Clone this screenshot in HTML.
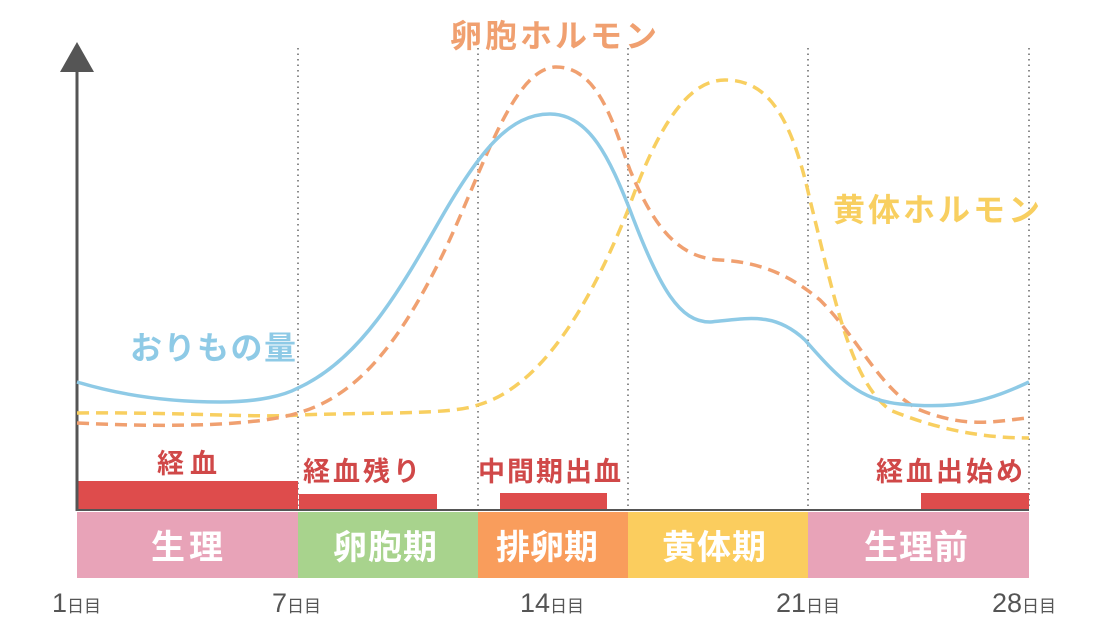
<!DOCTYPE html><html><head><meta charset="utf-8"><style>
body{margin:0;background:#fff;width:1111px;height:635px;overflow:hidden;font-family:"Liberation Sans","Noto Sans CJK JP",sans-serif}
</style></head><body>
<svg width="1111" height="635" xmlns="http://www.w3.org/2000/svg" font-family="'Liberation Sans','Noto Sans CJK JP',sans-serif">
<g stroke="#666" stroke-width="1.5" stroke-dasharray="1.5,4">
<line x1="298" y1="48" x2="298" y2="510"/><line x1="478" y1="48" x2="478" y2="510"/><line x1="628" y1="48" x2="628" y2="510"/><line x1="808" y1="48" x2="808" y2="510"/><line x1="1029" y1="48" x2="1029" y2="510"/>
</g>
<g fill="#de4c4c">
<rect x="77" y="481" width="221" height="29"/><rect x="299" y="494" width="138" height="16"/><rect x="500" y="493" width="107" height="17"/><rect x="921" y="493" width="108" height="17"/>
</g>
<rect x="77" y="512" width="221" height="66" fill="#e8a3b8"/>
<rect x="298" y="512" width="180" height="66" fill="#a8d38d"/>
<rect x="478" y="512" width="150" height="66" fill="#f99d5c"/>
<rect x="628" y="512" width="180" height="66" fill="#fbcd5e"/>
<rect x="808" y="512" width="221" height="66" fill="#e8a3b8"/>
<line x1="77" y1="70" x2="77" y2="511" stroke="#555" stroke-width="3"/>
<line x1="76" y1="510" x2="1029" y2="510" stroke="#555" stroke-width="2"/>
<polygon points="77,42 60,72 94,72" fill="#555"/>
<path d="M77,413 C180,412 260,418 298,415 C380,412 450,415 478,405 C530,390 580,330 628,210 C660,120 690,80 725,80 C765,80 790,110 810,200 C835,300 850,380 890,410 C950,435 1000,438 1029,438" fill="none" stroke="#f8cf60" stroke-width="3.5" stroke-dasharray="12,7"/>
<path d="M77,423 C180,428 260,425 298,413 C360,395 400,340 440,260 C480,180 510,70 555,67 C600,66 615,130 630,170 C655,230 680,258 720,260 C760,262 790,275 820,300 C860,340 880,390 920,410 C970,430 1000,420 1029,418" fill="none" stroke="#f0a070" stroke-width="3.5" stroke-dasharray="12,7"/>
<path d="M77,382 C130,398 180,402 220,402 C260,402 285,395 298,388 C360,360 400,290 440,220 C480,150 510,114 550,114 C590,114 610,160 630,210 C660,290 680,322 710,322 C750,318 775,312 805,340 C840,380 860,400 900,404 C960,410 990,400 1029,382" fill="none" stroke="#8ecae6" stroke-width="3.5"/>
<g font-weight="bold" font-size="32">
<text x="130" y="359" fill="#8ecae6" letter-spacing="1.5">おりもの量</text>
<text x="450" y="47" fill="#f0a070" letter-spacing="3">卵胞ホルモン</text>
<text x="833" y="221" fill="#f8cf60" letter-spacing="3">黄体ホルモン</text>
</g>
<g fill="#d04848" font-size="27" font-weight="bold">
<text x="157" y="473" letter-spacing="6">経血</text>
<text x="303" y="481" letter-spacing="3">経血残り</text>
<text x="478" y="481" letter-spacing="2">中間期出血</text>
<text x="876" y="481" letter-spacing="3">経血出始め</text>
</g>
<g fill="#fff" font-size="34" font-weight="bold">
<text x="151" y="559" letter-spacing="4">生理</text><text x="333" y="559" letter-spacing="1">卵胞期</text><text x="496" y="559">排卵期</text><text x="662" y="559" letter-spacing="1">黄体期</text><text x="864" y="559" letter-spacing="1">生理前</text>
</g>
<g fill="#555" font-size="27">
<text x="52" y="612">1<tspan font-size="17">日目</tspan></text>
<text x="272" y="612">7<tspan font-size="17">日目</tspan></text>
<text x="520" y="612">14<tspan font-size="17">日目</tspan></text>
<text x="776" y="612">21<tspan font-size="17">日目</tspan></text>
<text x="992" y="612">28<tspan font-size="17">日目</tspan></text>
</g>
</svg>
</body></html>
